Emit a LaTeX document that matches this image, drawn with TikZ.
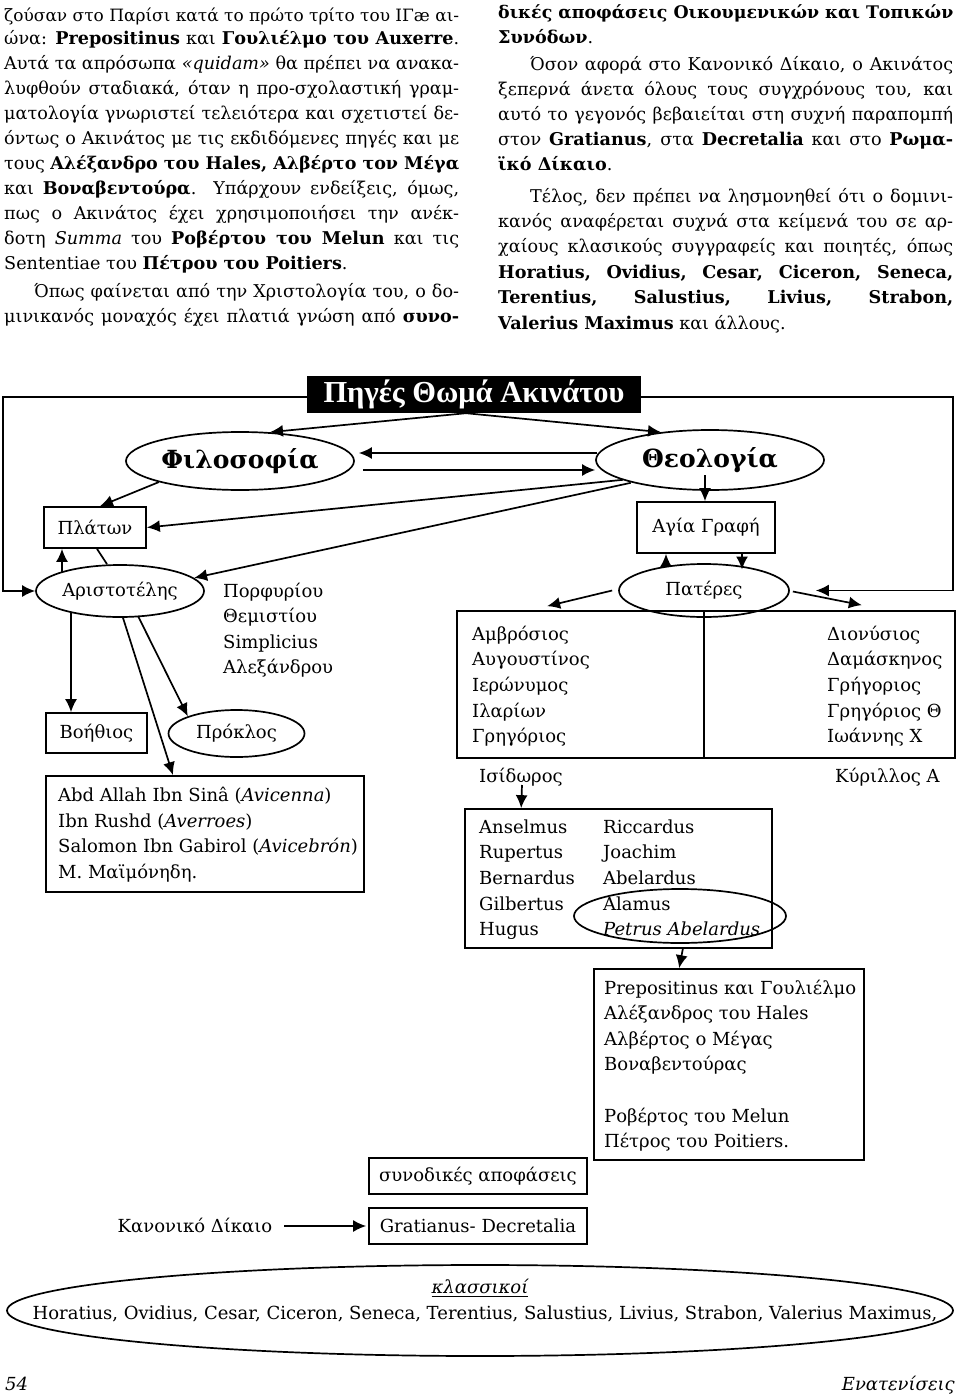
\documentclass[tikz,border=0pt]{standalone}
\usepackage{fontspec}
\setmainfont{DejaVu Serif}
\newfontfamily\titlefont{Liberation Serif}
\usepackage{graphicx}
\usetikzlibrary{shapes.geometric,arrows.meta,calc}
\newsavebox\lnbox
\newcommand\jl[2]{\sbox\lnbox{#2}\ifdim\wd\lnbox>#1\relax\resizebox{#1}{!}{\usebox\lnbox}\else\makebox[#1][s]{#2}\fi}
\newcommand\btext{\fontsize{17.6}{20}\selectfont}
\newcommand\dtext{\fontsize{18}{21}\selectfont}
\newcommand\bigb{\fontsize{25}{28}\selectfont\bfseries}
\tikzset{
  ln/.style={line width=1.7pt},
  arr/.style={ln,-{Latex[length=13pt,width=12pt]}},
  box/.style={draw,line width=1.7pt,rectangle,inner sep=0pt,font=\dtext},
  ell/.style={draw,line width=1.7pt,ellipse,inner sep=0pt,font=\dtext},
  tl/.style={inner sep=0pt,anchor=base west,font=\btext},
  dl/.style={inner sep=0pt,anchor=base west,font=\dtext},
  titlebox/.style={fill=black,text=white,inner sep=0pt,minimum width=334pt,minimum height=37pt,font=\titlefont\bfseries\fontsize{30.5}{32}\selectfont}
}
\begin{document}
\begin{tikzpicture}[x=1pt,y=-1pt]
\useasboundingbox (0,0) rectangle (960,1396);
% ---------- top text, left column
\node[tl] (a1) at (4,22) {\jl{455pt}{ζούσαν στο Παρίσι κατά το πρώτο τρίτο του ΙΓæ αι-}};
\node[tl] (a2) at (4,45) {\jl{455pt}{ώνα: \textbf{Prepositinus} και \textbf{Γουλιέλμο του Auxerre}.}};
\node[tl] (a3) at (4,70) {\jl{455pt}{Αυτά τα απρόσωπα \textit{«quidam»} θα πρέπει να ανακα-}};
\node[tl] (a4) at (4,95) {\jl{455pt}{λυφθούν σταδιακά, όταν η προ-σχολαστική γραμ-}};
\node[tl] (a5) at (4,120) {\jl{455pt}{ματολογία γνωριστεί τελειότερα και σχετιστεί δε-}};
\node[tl] (a6) at (4,145) {\jl{455pt}{όντως ο Ακινάτος με τις εκδιδόμενες πηγές και με}};
\node[tl] (a7) at (4,170) {\jl{455pt}{τους \textbf{Αλέξανδρο του Hales, Αλβέρτο τον Μέγα}}};
\node[tl] (a8) at (4,195) {\jl{455pt}{και \textbf{Βοναβεντούρα}. Υπάρχουν ενδείξεις, όμως,}};
\node[tl] (a9) at (4,220) {\jl{455pt}{πως ο Ακινάτος έχει χρησιμοποιήσει την ανέκ-}};
\node[tl] (a10) at (4,245) {\jl{455pt}{δοτη \textit{Summa} του \textbf{Ροβέρτου του Melun} και τις}};
\node[tl] (a11) at (4,270) {Sententiae του \textbf{Πέτρου του Poitiers}.};
\node[tl] (a12) at (34,298) {\jl{425pt}{Όπως φαίνεται από την Χριστολογία του, ο δο-}};
\node[tl] (a13) at (4,323) {\jl{455pt}{μινικανός μοναχός έχει πλατιά γνώση από \textbf{συνο-}}};
% ---------- top text, right column
\node[tl] (b1) at (498,19) {\jl{455pt}{\textbf{δικές αποφάσεις Οικουμενικών και Τοπικών}}};
\node[tl] (b2) at (498,44) {\textbf{Συνόδων}.};
\node[tl] (b3) at (530,70.5) {\jl{423pt}{Όσον αφορά στο Κανονικό Δίκαιο, ο Ακινάτος}};
\node[tl] (b4) at (498,95.5) {\jl{455pt}{ξεπερνά άνετα όλους τους συγχρόνους του, και}};
\node[tl] (b5) at (498,120.5) {\jl{455pt}{αυτό το γεγονός βεβαιείται στη συχνή παραπομπή}};
\node[tl] (b6) at (498,146) {\jl{455pt}{στον \textbf{Gratianus}, στα \textbf{Decretalia} και στο \textbf{Ρωμα-}}};
\node[tl] (b7) at (498,171) {\textbf{ϊκό Δίκαιο}.};
\node[tl] (b8) at (530,203) {\jl{423pt}{Τέλος, δεν πρέπει να λησμονηθεί ότι ο δομινι-}};
\node[tl] (b9) at (498,228) {\jl{455pt}{κανός αναφέρεται συχνά στα κείμενά του σε αρ-}};
\node[tl] (b10) at (498,253) {\jl{455pt}{χαίους κλασικούς συγγραφείς και ποιητές, όπως}};
\node[tl] (b11) at (498,279) {\jl{455pt}{\textbf{Horatius, Ovidius, Cesar, Ciceron, Seneca,}}};
\node[tl] (b12) at (498,304) {\jl{455pt}{\textbf{Terentius, Salustius, Livius, Strabon,}}};
\node[tl] (b13) at (498,329) {\textbf{Valerius Maximus} και άλλους.};
% ---------- diagram nodes
\node[titlebox] (title) at (474,394.5) {Πηγές Θωμά Ακινάτου};
\node[ell,font=\bigb,minimum width=228pt,minimum height=58pt] (Philo) at (240,461) {Φιλοσοφία};
\node[ell,font=\bigb,minimum width=228pt,minimum height=60pt] (Theo) at (710,460) {Θεολογία};
\node[box,minimum width=102pt,minimum height=41pt] (Plato) at (95,527.5) {Πλάτων};
\node[ell,minimum width=168pt,minimum height=52pt] (Arist) at (120,591) {Αριστοτέλης};
\node[box,minimum width=101pt,minimum height=40pt] (Boeth) at (96.5,733) {Βοήθιος};
\node[ell,minimum width=136pt,minimum height=47pt] (Procl) at (236.5,733.5) {Πρόκλος};
\node[box,minimum width=318pt,minimum height=116pt] (Avic) at (205,834) {};
\node[box,minimum width=138pt,minimum height=51pt] (AgGr) at (706,527.5) {Αγία Γραφή};
\node[ell,minimum width=170pt,minimum height=53pt] (Pat) at (704,590.5) {Πατέρες};
\node[box,minimum width=498pt,minimum height=147pt] (Fath) at (706,684.5) {};
\node[box,minimum width=307pt,minimum height=139pt] (Ans) at (618.5,878.5) {};
\node[ell,minimum width=212pt,minimum height=54pt] (AlEll) at (680,916) {};
\node[box,minimum width=270pt,minimum height=191pt] (Prep) at (729,1064.5) {};
\node[box,minimum width=218pt,minimum height=36pt] (Syn) at (478,1176) {συνοδικές αποφάσεις};
\node[box,minimum width=218pt,minimum height=36pt] (Grat) at (478,1226) {Gratianus- Decretalia};
\node[inner sep=0pt,font=\dtext] (Kan) at (195,1226) {Κανονικό Δίκαιο};
\node[ell,minimum width=946pt,minimum height=91pt] (Class) at (480,1310.5) {};
% list texts
\foreach \t [count=\i] in {Πορφυρίου,Θεμιστίου,Simplicius,Αλεξάνδρου}
  \node[dl] (por\i) at (223,{597+25.5*(\i-1)}) {\t};
\node[dl] (av1) at (58,801.5) {Abd Allah Ibn Sinâ (\textit{Avicenna})};
\node[dl] (av2) at (58,827) {Ibn Rushd (\textit{Averroes})};
\node[dl] (av3) at (58,852.5) {Salomon Ibn Gabirol (\textit{Avicebrón})};
\node[dl] (av4) at (58,878) {M. Μαϊμόνηδη.};
\foreach \t [count=\i] in {Αμβρόσιος,Αυγουστίνος,Ιερώνυμος,Ιλαρίων,Γρηγόριος}
  \node[dl] (fl\i) at (472,{640+25.7*(\i-1)}) {\t};
\foreach \t [count=\i] in {Διονύσιος,Δαμάσκηνος,Γρήγοριος,Γρηγόριος Θ,Ιωάννης Χ}
  \node[dl] (fr\i) at (827,{640+25.7*(\i-1)}) {\t};
\node[dl] (Isid) at (479,782) {Ισίδωρος};
\node[dl] (Kyr) at (835,782) {Κύριλλος Α};
\foreach \t [count=\i] in {Anselmus,Rupertus,Bernardus,Gilbertus,Hugus}
  \node[dl] (an\i) at (479,{833+25.7*(\i-1)}) {\t};
\foreach \t [count=\i] in {Riccardus,Joachim,Abelardus,Alamus,\textit{Petrus Abelardus}}
  \node[dl] (ri\i) at (603,{833+25.7*(\i-1)}) {\t};
\node[dl] (pr1) at (604,994) {Prepositinus και Γουλιέλμο};
\node[dl] (pr2) at (604,1019.5) {Αλέξανδρος του Hales};
\node[dl] (pr3) at (604,1045) {Αλβέρτος ο Μέγας};
\node[dl] (pr4) at (604,1070.5) {Βοναβεντούρας};
\node[dl] (pr5) at (604,1122) {Ροβέρτος του Melun};
\node[dl] (pr6) at (604,1147.5) {Πέτρος του Poitiers.};
\node[inner sep=1pt,font=\dtext\itshape] (klass) at (480,1288) {\underline{κλασσικοί}};
\node[inner sep=0pt,anchor=base,font=\dtext] (hor) at (485,1319) {Horatius, Ovidius, Cesar, Ciceron, Seneca, Terentius, Salustius, Livius, Strabon, Valerius Maximus,};
\node[inner sep=0pt,anchor=base west,font=\dtext\itshape] (pg) at (5,1390) {54};
\node[inner sep=0pt,anchor=base east,font=\dtext\itshape] (jn) at (955,1390) {Ενατενίσεις};
% ---------- connectors
\draw[arr] ($(title.west)+(0,2.5)$) -- (3,397) |- (Arist.west);
\draw[arr,shorten >=26pt] ($(title.east)+(0,2.5)$) -- (953,397) |- (Pat.east);
\draw[arr] ($(title.south)+(-8,0)$) -- ($(Philo.north)+(30,1)$);
\draw[arr] ($(title.south)+(-8,0)$) -- ($(Theo.north)+(-49,3)$);
\draw[arr] ($(Theo.west)+(2,-7)$) -- ($(Philo.east)+(4,-8)$);
\draw[arr] ($(Philo.east)+(8,9)$) -- ($(Theo.west)+(0,10)$);
\draw[arr] (Philo.south west) -- ($(Plato.north)+(5,0)$);
\draw[arr] ($(Theo.south west)+(-6,-2)$) -- (Plato.east);
\draw[arr] ($(Theo.south west)+(2,1)$) -- (Arist.10);
\draw[arr] ($(Arist.center)+(-58,-19)$) -- ($(Plato.south)+(-33,0)$);
\draw[ln] ($(Plato.south)+(2,0)$) -- ($(Arist.north)+(-13,0)$);
\draw[arr] ($(Arist.center)+(-49,21)$) -- ($(Boeth.north)+(-25.5,0)$);
\draw[arr] ($(Arist.center)+(18,25)$) -- (Procl.north west);
\draw[arr] ($(Arist.south)+(3,0)$) -- ($(Avic.north)+(-32,0)$);
\draw[arr] ($(Theo.center)+(-5,15)$) -- ($(AgGr.north)+(-1,0)$);
\draw[arr] ($(Pat.center)+(-38,-24)$) -- ($(AgGr.south)+(-40,0)$);
\draw[arr] ($(AgGr.south)+(36,0)$) -- ($(Pat.center)+(38,-21)$);
\draw[arr] ($(Pat.west)+(-6,0)$) -- ($(Fath.north west)+(91,-4)$);
\draw[arr] ($(Pat.east)+(3,1)$) -- ($(Fath.north east)+(-94,-5)$);
\draw[ln] (Fath.north -| Pat.center) -- (Fath.south -| Pat.center);
\draw[arr] ($(Isid.base west)+(43,3)$) -- ($(Ans.north west)+(57,0)$);
\draw[arr] ($(Ans.south east)+(-90,0)$) -- ($(Prep.north west)+(86,0)$);
\draw[arr] ($(Kan.east)+(12,0)$) -- ($(Grat.west)+(-2,0)$);
\end{tikzpicture}
\end{document}
